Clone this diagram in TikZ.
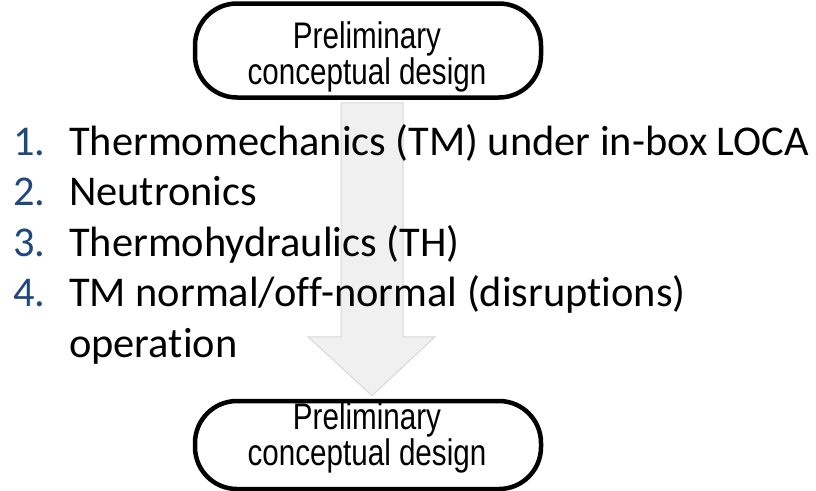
\documentclass[tikz,border=0pt]{standalone}
\usepackage{fontspec}
\setmainfont[Ligatures={TeX,NoCommon}]{Carlito}
\newfontfamily\narrowfont[FakeStretch=0.8]{Liberation Sans}
\usepackage{tikz}
\usetikzlibrary{calc}
\definecolor{numblue}{RGB}{31,73,125}
\definecolor{arrowfill}{RGB}{240,240,240}
\definecolor{arrowline}{RGB}{215,215,215}
\tikzset{
	stagebox/.style={draw=black, line width=4.5pt, rounded corners=42pt, minimum width=346pt, minimum height=94pt, inner sep=0pt, fill=white},
	boxtext/.style={font=\narrowfont\fontsize{37}{33}\selectfont, align=center, anchor=center, inner sep=0pt},
	itemnum/.style={font=\fontsize{42.4}{51}\selectfont, text=numblue, anchor=base west, inner sep=0pt},
	itemtext/.style={font=\fontsize{42.4}{51}\selectfont, anchor=base west, inner sep=0pt},
	bigarrow/.style={fill=arrowfill, draw=arrowline, line width=1pt}
}

\begin{document}
\begin{tikzpicture}[x=1pt,y=-1pt]
			\useasboundingbox (0,0) rectangle (816,490);
			
			\node[stagebox] (prelim) at (368,50.5) {};
			\node[stagebox, minimum height=88pt] (design) at (368,445) {};
			
			\draw [bigarrow] ($(prelim.south)+(-27,3)$) -- ($(prelim.south)+(35,3)$) -- ($(design.north)+(35,-62)$) -- ($(design.north)+(67,-62)$) -- ($(design.north)+(4,-3)$) -- ($(design.north)+(-60,-62)$) -- ($(design.north)+(-27,-62)$) -- cycle;
			
			\node[boxtext] (prelimtext) at (367,57) {Preliminary\\conceptual design};
			\node[boxtext] (designtext) at (367,438) {Preliminary\\conceptual design};
			
			\node[itemnum] (numA) at (13,155) {1.};
			\node[itemtext] (itemA) at (69,155) {Thermomechanics (TM) under in-box LOCA};
			\node[itemnum] (numB) at (13,205.5) {2.};
			\node[itemtext] (itemB) at (69,205.5) {Neutronics};
			\node[itemnum] (numC) at (13,256) {3.};
			\node[itemtext] (itemC) at (69,256) {Thermohydraulics (TH)};
			\node[itemnum] (numD) at (13,306.5) {4.};
			\node[itemtext] (itemD) at (69,306.5) {TM normal/off-normal (disruptions)};
			\node[itemtext] (itemE) at (69,357) {operation};
		\end{tikzpicture}
\end{document}
